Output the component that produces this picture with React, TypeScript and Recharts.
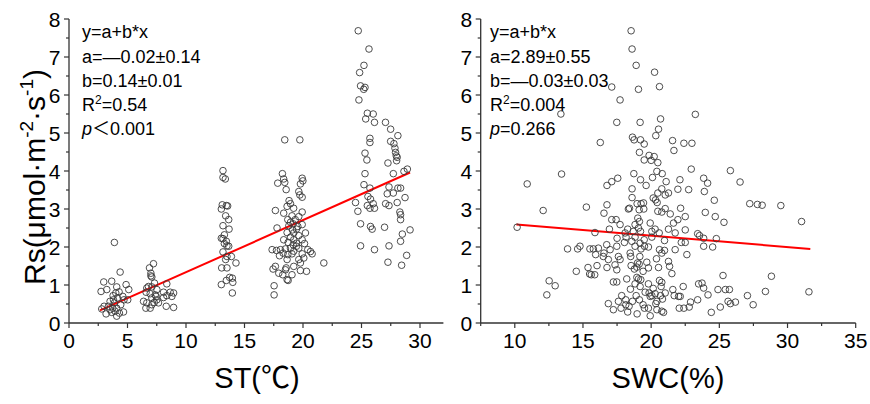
import { ScatterChart, Scatter, XAxis, YAxis, ReferenceLine } from 'recharts';

// Rs vs soil temperature, [ST (°C), Rs]
const stPoints: [number, number][] = [
  [3.88, 2.12], [4.37, 1.34], [2.97, 1.08], [3.65, 1.1], [4.88, 1.01], [2.74, 0.83], [4.08, 0.95], [5.11, 0.88],
  [4.28, 0.82], [3.23, 0.88], [3.77, 0.72], [4.6, 0.7], [5.02, 0.61], [4.14, 0.66], [3.51, 0.57], [3.88, 0.53],
  [3.0, 0.44], [3.37, 0.44], [3.74, 0.39], [4.08, 0.39], [4.42, 0.48], [3.94, 0.31], [3.51, 0.35], [3.17, 0.24],
  [4.08, 0.18], [4.66, 0.29], [4.31, 0.26], [3.65, 0.28], [3.8, 0.61], [4.0, 0.79], [2.8, 0.37], [4.7, 0.61],
  [7.22, 1.56], [6.88, 1.45], [7.0, 1.31], [7.0, 1.24], [7.08, 1.21], [8.36, 1.03], [7.31, 1.05], [6.79, 0.96],
  [6.65, 0.92], [7.08, 0.95], [7.51, 0.88], [8.08, 0.81], [8.65, 0.81], [8.94, 0.79], [6.59, 0.81], [6.94, 0.77],
  [7.37, 0.74], [8.36, 0.72], [8.79, 0.7], [8.08, 0.67], [6.37, 0.57], [7.08, 0.66], [7.51, 0.61], [6.65, 0.53],
  [7.28, 0.54], [7.65, 0.53], [7.08, 0.48], [6.57, 0.39], [6.94, 0.39], [8.31, 0.44], [8.94, 0.41], [7.45, 0.7],
  [13.16, 4.01], [13.16, 3.83], [13.36, 3.79], [13.1, 3.11], [13.45, 3.09], [13.56, 3.08], [13.02, 3.0], [13.39, 2.82],
  [13.65, 2.72], [13.16, 2.56], [13.68, 2.47], [13.28, 2.32], [13.02, 2.23], [13.16, 2.22], [13.45, 2.15], [13.28, 2.09],
  [13.5, 2.03], [13.65, 2.02], [13.16, 1.87], [13.88, 1.75], [13.5, 1.75], [13.39, 1.67], [14.27, 1.58], [13.05, 1.45],
  [13.5, 1.45], [13.73, 1.2], [13.96, 1.18], [13.45, 1.12], [14.0, 1.07], [13.02, 1.01], [13.96, 0.79],
  [18.44, 4.82], [19.73, 4.82], [18.24, 3.93], [18.35, 3.79], [18.44, 3.7], [17.84, 3.68], [19.93, 3.81], [19.99, 3.74],
  [19.78, 3.66], [18.56, 3.51], [19.64, 3.46], [19.73, 3.37], [19.93, 3.31], [18.81, 3.22], [18.93, 3.14], [18.64, 3.07],
  [19.2, 3.02], [17.64, 2.96], [19.93, 2.92], [18.35, 2.89], [19.06, 2.82], [19.64, 2.8], [18.7, 2.72], [19.34, 2.72],
  [18.93, 2.65], [19.16, 2.61], [18.79, 2.56], [19.56, 2.54], [19.93, 2.59], [17.78, 2.5], [19.1, 2.45], [19.44, 2.47],
  [18.64, 2.38], [19.21, 2.37], [20.21, 2.37], [19.64, 2.3], [18.93, 2.26], [18.35, 2.19], [19.21, 2.19], [19.93, 2.19],
  [18.73, 2.12], [19.16, 2.06], [20.13, 2.09], [19.44, 2.02], [19.64, 1.97], [17.36, 1.93], [17.73, 1.91], [18.07, 1.93],
  [18.5, 1.95], [20.41, 1.93], [20.64, 1.88], [20.78, 1.82], [18.3, 1.84], [18.7, 1.8], [19.06, 1.82], [19.93, 1.82],
  [17.99, 1.77], [18.64, 1.67], [19.64, 1.67], [20.07, 1.71], [19.78, 1.58], [21.78, 1.58], [17.64, 1.49], [19.21, 1.49],
  [18.56, 1.45], [18.5, 1.4], [19.78, 1.38], [17.44, 1.42], [17.93, 1.31], [20.3, 1.36], [18.27, 1.27], [19.06, 1.27],
  [18.64, 1.14], [18.73, 1.12], [17.53, 0.98], [17.53, 0.74], [19.44, 2.1], [18.93, 1.97], [19.21, 1.89],
  [24.72, 7.69], [25.64, 7.21], [25.21, 6.78], [24.84, 6.59], [24.92, 6.24], [25.3, 6.2], [25.19, 6.15], [24.78, 5.87],
  [25.5, 5.52], [26.0, 5.5], [25.36, 5.37], [26.11, 5.28], [27.05, 5.28], [27.49, 5.1], [28.11, 4.93], [25.72, 4.86],
  [25.72, 4.75], [27.49, 4.78], [27.77, 4.72], [27.86, 4.6], [27.91, 4.49], [25.3, 4.47], [27.97, 4.4], [28.05, 4.36],
  [28.0, 4.27], [25.46, 4.29], [27.26, 4.21], [28.92, 4.05], [28.63, 3.99], [25.3, 3.93], [27.72, 3.93], [25.21, 3.64],
  [25.72, 3.55], [27.35, 3.58], [28.11, 3.55], [28.34, 3.55], [25.55, 3.33], [25.77, 3.26], [27.72, 3.42], [27.2, 3.4],
  [28.72, 3.3], [24.49, 3.17], [26.0, 3.14], [27.06, 3.14], [28.05, 3.17], [25.5, 3.09], [25.72, 3.02], [26.11, 3.02],
  [27.35, 3.09], [24.69, 2.94], [28.28, 2.92], [28.34, 2.85], [24.92, 2.61], [25.77, 2.54], [25.91, 2.47], [28.34, 2.72],
  [26.97, 2.52], [29.15, 2.45], [28.49, 2.34], [28.34, 2.15], [24.92, 2.03], [27.35, 2.03], [26.11, 1.93], [28.86, 1.78],
  [27.26, 1.6], [28.43, 1.52],
];

// Rs vs soil water content, [SWC (%), Rs]
const swcPoints: [number, number][] = [
  [18.53, 7.69], [18.6, 7.21], [18.9, 6.78], [20.25, 6.6], [20.61, 6.22], [17.11, 6.21], [19.07, 6.15], [17.72, 5.87],
  [13.38, 5.5], [23.24, 5.49], [20.69, 5.37], [17.48, 5.28], [19.19, 5.28], [20.54, 5.1], [18.63, 4.89], [18.75, 4.82],
  [19.22, 4.82], [20.34, 4.93], [21.57, 4.8], [22.4, 4.73], [22.99, 4.73], [16.27, 4.75], [19.49, 4.71], [21.67, 4.54],
  [19.14, 4.49], [19.85, 4.41], [20.22, 4.38], [19.49, 4.29], [20.0, 4.28], [20.49, 4.22], [22.94, 4.05], [25.81, 4.01],
  [20.42, 3.99], [13.43, 3.92], [18.73, 3.93], [20.81, 3.93], [17.55, 3.81], [20.1, 3.83], [23.85, 3.81], [22.11, 3.77],
  [19.22, 3.77], [17.11, 3.72], [21.1, 3.72], [24.14, 3.68], [26.52, 3.71], [10.91, 3.66], [16.76, 3.62], [19.63, 3.62],
  [20.78, 3.53], [18.6, 3.53], [21.96, 3.52], [22.75, 3.51], [23.9, 3.46], [20.49, 3.42], [21.27, 3.42], [21.03, 3.37],
  [18.6, 3.3], [20.15, 3.29], [20.32, 3.24], [24.63, 3.23], [20.44, 3.17], [18.97, 3.14], [19.26, 3.14], [19.44, 3.16],
  [27.23, 3.14], [27.79, 3.12], [28.14, 3.1], [29.51, 3.09], [15.25, 3.05], [16.76, 3.11], [18.41, 3.02], [18.33, 3.0],
  [22.16, 3.02], [19.12, 2.98], [19.46, 3.0], [21.03, 3.01], [12.08, 2.96], [20.49, 2.94], [20.78, 2.92], [23.97, 2.91],
  [16.54, 2.89], [21.4, 2.87], [22.5, 2.8], [24.7, 2.8], [19.02, 2.76], [17.11, 2.72], [17.43, 2.72], [21.96, 2.72],
  [19.14, 2.67], [25.34, 2.65], [31.03, 2.67], [17.72, 2.59], [18.82, 2.59], [19.93, 2.63], [21.64, 2.63], [10.17, 2.52],
  [16.94, 2.47], [18.28, 2.47], [19.07, 2.5], [20.29, 2.47], [21.27, 2.47], [22.5, 2.45], [15.88, 2.38], [18.68, 2.41],
  [19.22, 2.41], [18.09, 2.37], [20.05, 2.41], [20.59, 2.37], [21.76, 2.37], [23.41, 2.35], [23.55, 2.3], [23.85, 2.23],
  [24.78, 2.22], [18.16, 2.26], [18.82, 2.26], [20.05, 2.26], [17.5, 2.23], [19.49, 2.19], [20.98, 2.17], [22.21, 2.12],
  [18.04, 2.12], [18.58, 2.15], [19.19, 2.1], [22.5, 2.12], [14.78, 2.02], [16.74, 2.06], [17.48, 2.02], [18.82, 2.02],
  [19.51, 2.02], [19.8, 2.0], [23.85, 2.02], [24.51, 2.0], [13.87, 1.95], [14.61, 1.95], [15.51, 1.95], [15.76, 1.95],
  [16.13, 1.97], [16.99, 1.93], [19.26, 1.95], [20.61, 1.93], [20.98, 1.91], [21.76, 1.93], [18.46, 1.84], [16.54, 1.84],
  [15.93, 1.8], [17.6, 1.75], [18.5, 1.75], [16.49, 1.75], [22.62, 1.8], [20.78, 1.84], [19.17, 1.75], [20.39, 1.69],
  [17.72, 1.67], [16.86, 1.67], [21.27, 1.62], [19.68, 1.6], [19.0, 1.58], [19.12, 1.55], [17.35, 1.53], [18.53, 1.51],
  [16.03, 1.51], [21.35, 1.49], [18.95, 1.47], [16.76, 1.46], [15.37, 1.46], [18.77, 1.42], [19.8, 1.45], [20.54, 1.46],
  [17.48, 1.4], [14.51, 1.36], [19.41, 1.36], [15.49, 1.29], [15.61, 1.27], [15.86, 1.27], [21.52, 1.3], [25.27, 1.25],
  [28.82, 1.23], [18.95, 1.2], [19.07, 1.16], [18.21, 1.16], [19.24, 1.14], [20.61, 1.12], [12.52, 1.11], [17.23, 1.08],
  [17.48, 1.08], [20.78, 1.07], [19.8, 1.03], [18.82, 1.03], [23.48, 1.03], [23.73, 1.05], [20.73, 0.96], [22.35, 0.96],
  [12.96, 0.98], [19.19, 0.96], [23.85, 0.92], [20.15, 0.91], [18.48, 0.89], [21.59, 0.88], [24.9, 0.88], [25.44, 0.88],
  [25.74, 0.88], [31.57, 0.82], [28.38, 0.83], [19.56, 0.81], [19.85, 0.79], [21.03, 0.79], [20.29, 0.77], [24.17, 0.74],
  [20.05, 0.72], [17.84, 0.72], [18.9, 0.72], [20.69, 0.72], [21.69, 0.72], [22.01, 0.7], [22.13, 0.7], [12.35, 0.74],
  [27.06, 0.72], [19.93, 0.7], [18.14, 0.61], [18.63, 0.57], [20.83, 0.63], [19.14, 0.61], [23.41, 0.61], [17.6, 0.57],
  [20.42, 0.57], [22.89, 0.55], [25.64, 0.57], [26.18, 0.55], [25.81, 0.51], [16.86, 0.51], [20.34, 0.51], [18.14, 0.48],
  [27.48, 0.48], [19.41, 0.48], [18.38, 0.44], [25.07, 0.42], [17.79, 0.39], [19.8, 0.39], [19.51, 0.39], [22.06, 0.39],
  [22.4, 0.39], [22.79, 0.42], [17.23, 0.35], [20.42, 0.35], [18.28, 0.29], [20.78, 0.31], [20.91, 0.28], [24.41, 0.28],
  [18.97, 0.24], [19.93, 0.19],
];

// fitted line ends
const stFit = [{ x: 2.65, y: 0.33 }, { x: 29.15, y: 3.96 }];
const swcFit = [{ x: 10.12, y: 2.59 }, { x: 31.67, y: 1.95 }];

const stTicks = [0, 2.5, 5, 7.5, 10, 12.5, 15, 17.5, 20, 22.5, 25, 27.5, 30];
const swcTicks = [7.5, 10, 12.5, 15, 17.5, 20, 22.5, 25, 27.5, 30, 32.5, 35];
const rsTicks = [0, 0.5, 1, 1.5, 2, 2.5, 3, 3.5, 4, 4.5, 5, 5.5, 6, 6.5, 7, 7.5, 8];

const stStats = ['y=a+b*x', 'a=—0.02±0.14', 'b=0.14±0.01', '0.54', '＜0.001'];
const swcStats = ['y=a+b*x', 'a=2.89±0.55', 'b=—0.03±0.03', '0.004', '=0.266'];

const FONT = "'Liberation Sans', Arial, 'Noto Sans CJK SC', sans-serif";
const AXIS = '#333';

const toXY = (pts: [number, number][]) => pts.map(([x, y]) => ({ x, y }));

function XTick({ x, y, payload }: any) {
  const v = payload.value;
  const major = Math.abs(v % 5) < 1e-6;
  return (
    <g>
      <line x1={x} x2={x} y1={y} y2={y + (major ? 5 : 3)} stroke={AXIS} strokeWidth={1.2} />
      {major && (
        <text x={x} y={y + 25} textAnchor="middle" fontSize={21} fontFamily={FONT} fill="#000">
          {v}
        </text>
      )}
    </g>
  );
}

function YTick({ x, y, payload }: any) {
  const v = payload.value;
  const major = Math.abs(v % 1) < 1e-6;
  return (
    <g>
      <line x1={x} x2={x - (major ? 5 : 3)} y1={y} y2={y} stroke={AXIS} strokeWidth={1.2} />
      {major && (
        <text x={x - 8.5} y={y + 7.5} textAnchor="end" fontSize={21} fontFamily={FONT} fill="#000">
          {v}
        </text>
      )}
    </g>
  );
}

const circle = (p: any) => (
  <circle cx={p.cx} cy={p.cy} r={3.3} fill="none" stroke="#3a3a3a" strokeWidth={0.9} />
);

function Stats({ x, lines, pLabel }: { x: number; lines: string[]; pLabel: string }) {
  const base = [38, 62.5, 86.5, 111, 135];
  return (
    <g fontFamily={FONT} fontSize={18} fill="#000">
      <text x={x} y={base[0]}>{lines[0]}</text>
      <text x={x} y={base[1]}>{lines[1]}</text>
      <text x={x} y={base[2]}>{lines[2]}</text>
      <text x={x} y={base[3]}>
        R<tspan dy={-7} fontSize={12}>2</tspan>
        <tspan dy={7}>={lines[3]}</tspan>
      </text>
      <text x={x} y={base[4]}>
        <tspan fontStyle="italic">{pLabel}</tspan>
        {lines[4]}
      </text>
    </g>
  );
}

export default function App() {
  return (
    <div style={{ position: 'absolute', left: 0, top: 0, width: 870, height: 404, background: '#fff' }}>
      <div style={{ position: 'absolute', left: 0, top: 0 }}>
        <ScatterChart width={450} height={404} margin={{ top: 19, right: 6.6, bottom: 51, left: 0 }}>
          <XAxis
            type="number"
            dataKey="x"
            domain={[0, 32]}
            ticks={stTicks}
            interval={0}
            tickSize={0}
            tickMargin={0}
            tick={<XTick />}
            height={30}
            axisLine={{ stroke: AXIS, strokeWidth: 1.3 }}
            tickLine={false}
          />
          <YAxis
            type="number"
            dataKey="y"
            domain={[0, 8]}
            ticks={rsTicks}
            interval={0}
            tickSize={0}
            tickMargin={0}
            tick={<YTick />}
            width={69}
            axisLine={{ stroke: AXIS, strokeWidth: 1.3 }}
            tickLine={false}
          />
          <Scatter data={toXY(stPoints)} shape={circle} isAnimationActive={false} />
          <ReferenceLine
            segment={stFit}
            stroke="#f00"
            strokeWidth={2}
            ifOverflow="visible"
          />
          <Stats x={82} lines={stStats} pLabel="p" />
          <text
            transform="translate(45,177) rotate(-90)"
            textAnchor="middle"
            fontSize={30}
            fontFamily={FONT}
            fill="#000"
          >
            Rs(μmol·m<tspan dy={-12} fontSize={19}>-2</tspan>
            <tspan dy={12}>·s</tspan>
            <tspan dy={-12} fontSize={19}>-1</tspan>
            <tspan dy={12}>)</tspan>
          </text>
          <text x={257} y={388} textAnchor="middle" fontSize={29} fontFamily={FONT} fill="#000">
            ST(℃)
          </text>
        </ScatterChart>
      </div>
      <div style={{ position: 'absolute', left: 435, top: 0 }}>
        <ScatterChart width={435} height={404} margin={{ top: 19, right: 14.3, bottom: 51, left: 0 }}>
          <XAxis
            type="number"
            dataKey="x"
            domain={[7.5, 35]}
            ticks={swcTicks}
            interval={0}
            tickSize={0}
            tickMargin={0}
            tick={<XTick />}
            height={30}
            axisLine={{ stroke: AXIS, strokeWidth: 1.3 }}
            tickLine={false}
          />
          <YAxis
            type="number"
            dataKey="y"
            domain={[0, 8]}
            ticks={rsTicks}
            interval={0}
            tickSize={0}
            tickMargin={0}
            tick={<YTick />}
            width={45.7}
            axisLine={{ stroke: AXIS, strokeWidth: 1.3 }}
            tickLine={false}
          />
          <Scatter data={toXY(swcPoints)} shape={circle} isAnimationActive={false} />
          <ReferenceLine
            segment={swcFit}
            stroke="#f00"
            strokeWidth={2}
            ifOverflow="visible"
          />
          <Stats x={55} lines={swcStats} pLabel="p" />
          <text x={233} y={388} textAnchor="middle" fontSize={29} fontFamily={FONT} fill="#000">
            SWC(%)
          </text>
        </ScatterChart>
      </div>
    </div>
  );
}
